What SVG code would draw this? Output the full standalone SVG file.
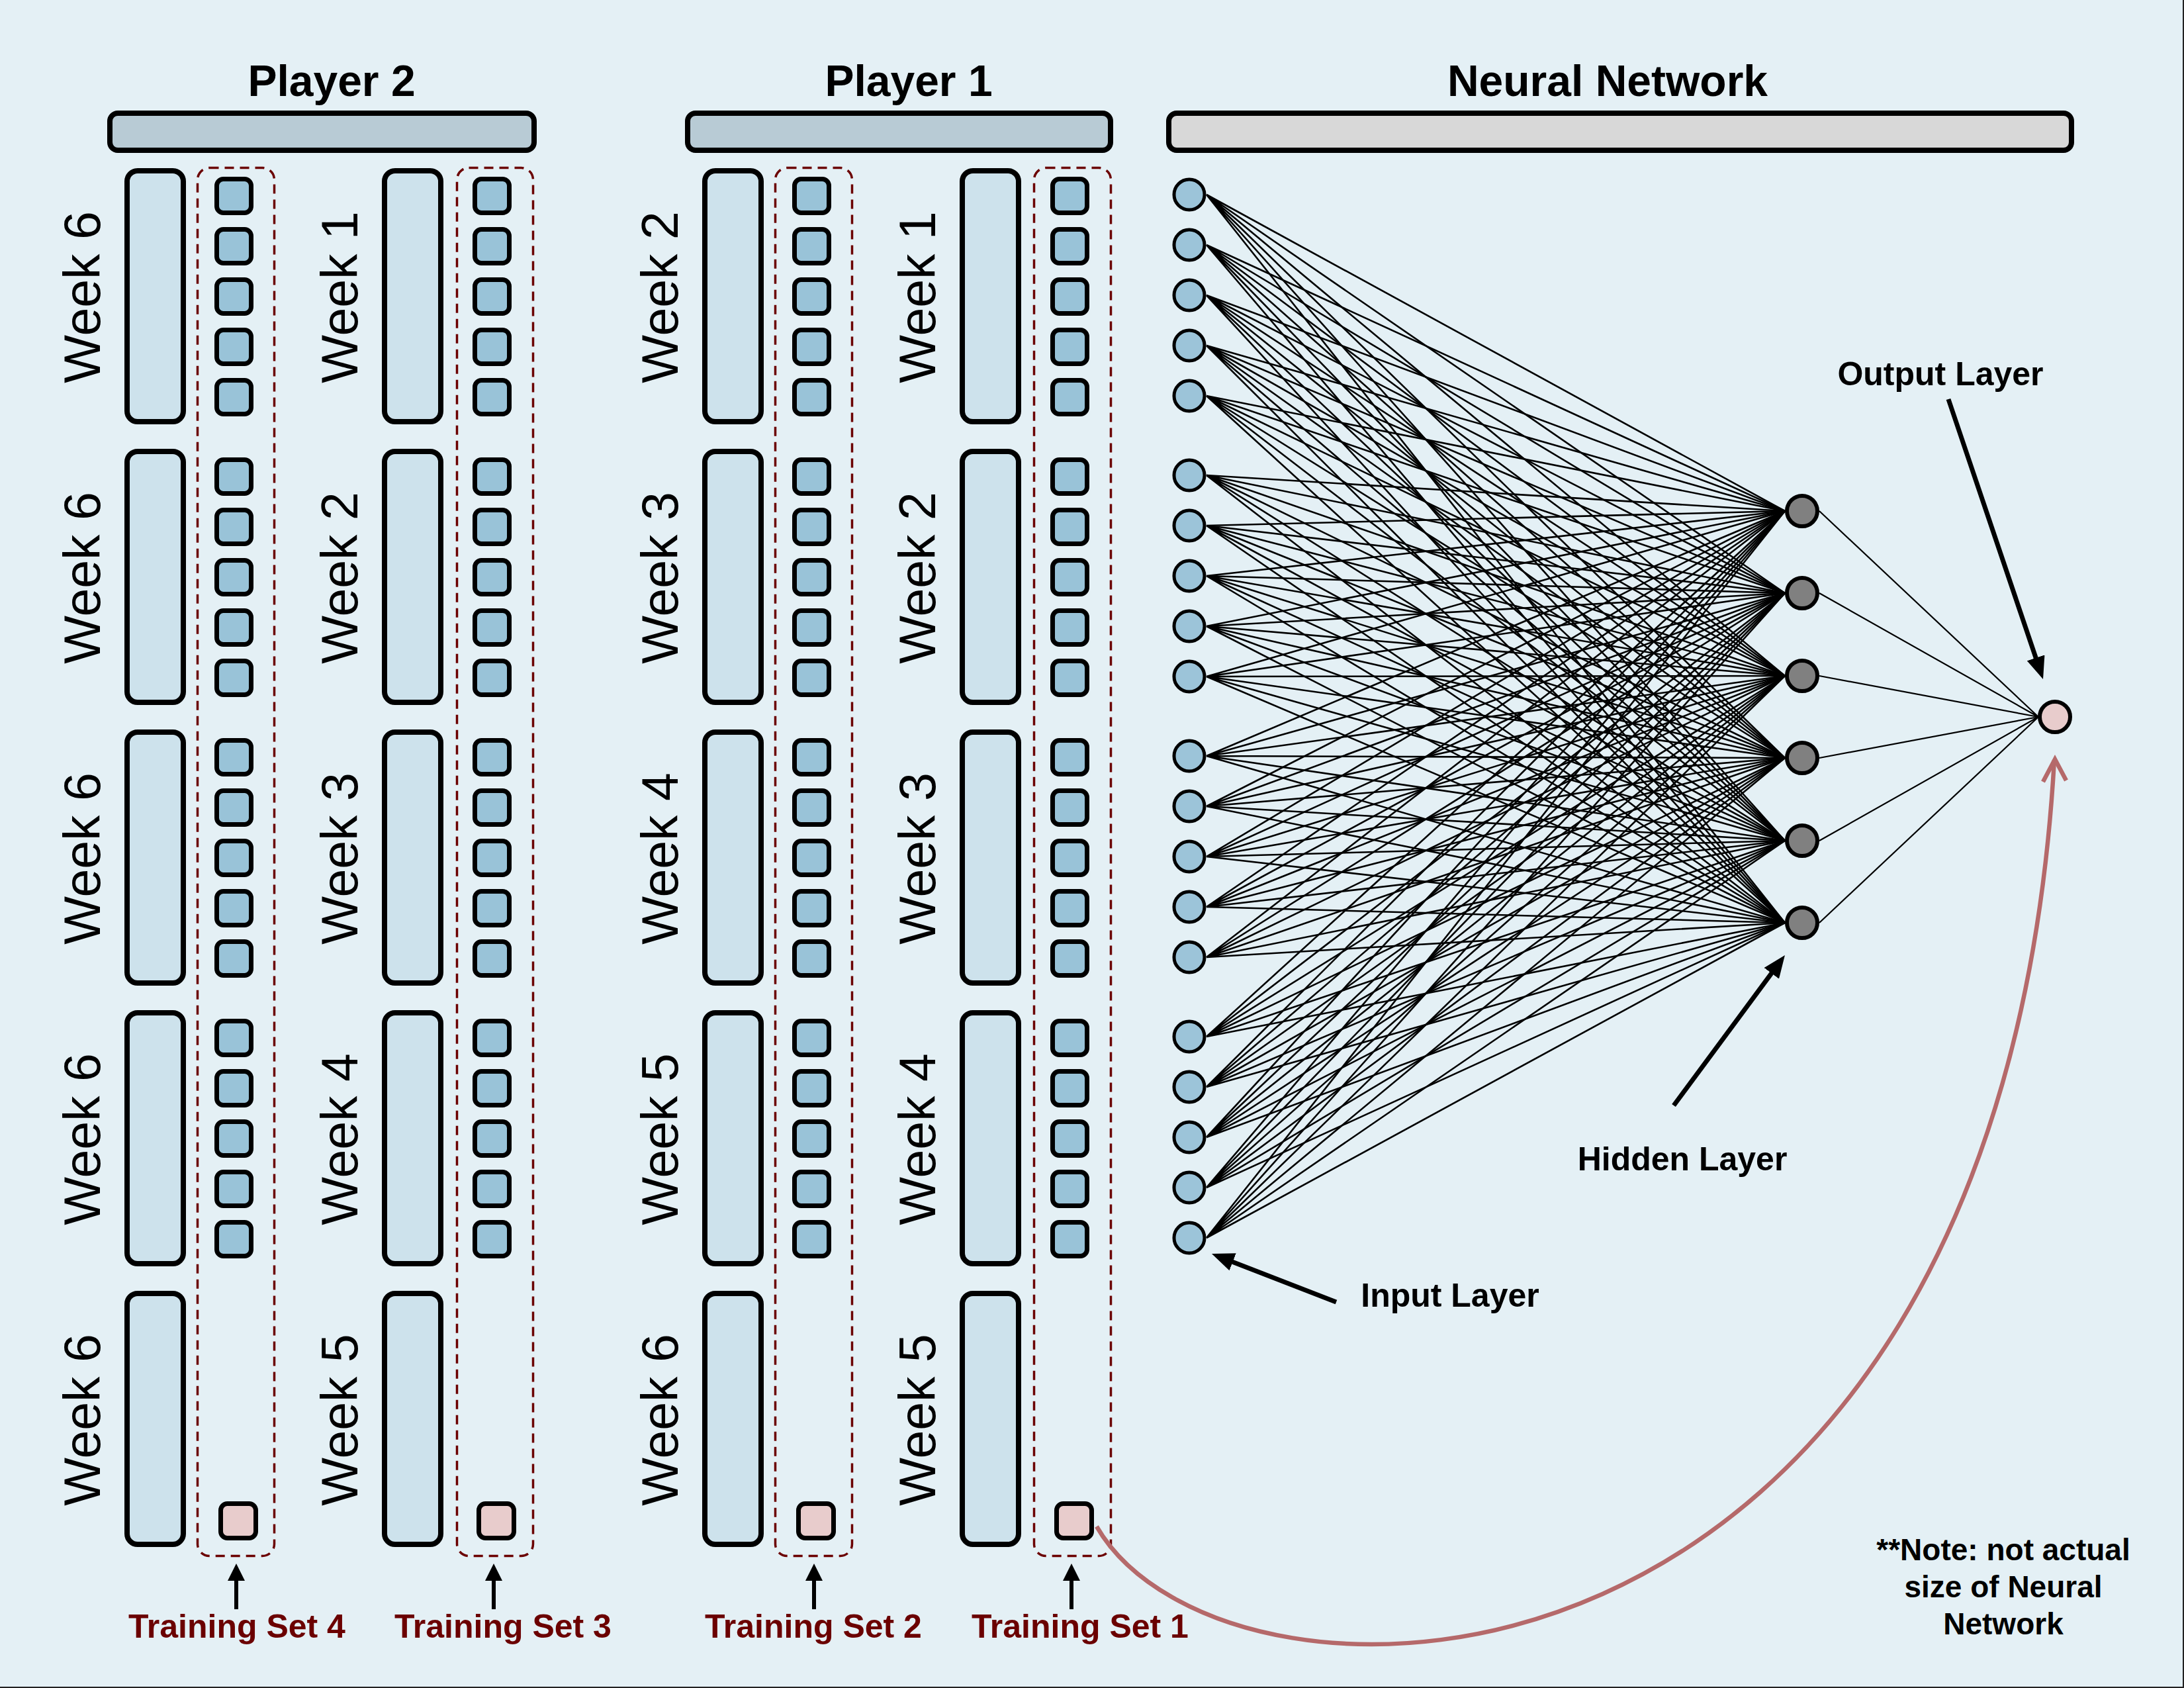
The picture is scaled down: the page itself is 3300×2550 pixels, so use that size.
<svg xmlns="http://www.w3.org/2000/svg" width="3300" height="2550" viewBox="0 0 3300 2550">
<defs>
<style>
.bg{fill:#e4f0f5}
.bar{stroke:#000;stroke-width:8}
.wk{fill:#cde2ec;stroke:#000;stroke-width:8}
.sq{fill:#99c3d8;stroke:#000;stroke-width:7}
.pk{fill:#e8cccc;stroke:#000;stroke-width:7}
.dash{fill:none;stroke:#6b0000;stroke-width:3.5;stroke-dasharray:14 9}
text{font-family:"Liberation Sans",Arial,sans-serif}
.title{font-size:66px;font-weight:bold;text-anchor:middle}
.week{font-size:77px;text-anchor:middle}
.ts{font-size:50px;font-weight:bold;fill:#6b0000;text-anchor:middle}
.lbl{font-size:50px;font-weight:bold;text-anchor:middle}
.note{font-size:46px;font-weight:bold;text-anchor:middle}
.in{fill:#9cc4d9;stroke:#000;stroke-width:5}
.hid{fill:#808080;stroke:#000;stroke-width:6}
.out{fill:#e8cccc;stroke:#000;stroke-width:6}
.conn{stroke:#000;stroke-width:2.6;fill:none}
.conn2{stroke:#000;stroke-width:2.2;fill:none}
.arr{stroke:#000;stroke-width:7}
.arrs{stroke:#000;stroke-width:6}
.curve{stroke:#b5696a;stroke-width:6.5;fill:none}
</style>
<marker id="ah" markerUnits="userSpaceOnUse" viewBox="0 0 34 28" refX="8" refY="14" markerWidth="34" markerHeight="28" orient="auto"><path d="M0,0 L34,14 L0,28 z" fill="#000"/></marker>
<marker id="ahs" markerUnits="userSpaceOnUse" viewBox="0 0 26 26" refX="6" refY="13" markerWidth="26" markerHeight="26" orient="auto"><path d="M0,0 L26,13 L0,26 z" fill="#000"/></marker>
</defs>
<rect class="bg" x="0" y="0" width="3300" height="2550"/>
<path d="M3299,0 V2549 H0" fill="none" stroke="#222" stroke-width="2"/>

<g id="headers">
<rect class="bar" x="166" y="171" width="641" height="56" rx="12" fill="#b8cbd5"/>
<text class="title" x="501" y="145">Player 2</text>
<rect class="bar" x="1039" y="171" width="639" height="56" rx="12" fill="#b8cbd5"/>
<text class="title" x="1373" y="145">Player 1</text>
<rect class="bar" x="1766" y="171" width="1364" height="56" rx="12" fill="#d8d8d8"/>
<text class="title" x="2429" y="145">Neural Network</text>
</g>

<g id="player2-col1">
<rect class="wk" x="192" y="258" width="85" height="379" rx="16"/>
<rect class="wk" x="192" y="682" width="85" height="379" rx="16"/>
<rect class="wk" x="192" y="1106" width="85" height="379" rx="16"/>
<rect class="wk" x="192" y="1530" width="85" height="379" rx="16"/>
<rect class="wk" x="192" y="1954" width="85" height="379" rx="16"/>
<text class="week" transform="translate(151,449) rotate(-90)">Week 6</text>
<text class="week" transform="translate(151,873) rotate(-90)">Week 6</text>
<text class="week" transform="translate(151,1297) rotate(-90)">Week 6</text>
<text class="week" transform="translate(151,1721) rotate(-90)">Week 6</text>
<text class="week" transform="translate(151,2145) rotate(-90)">Week 6</text>
</g>
<g id="player2-col2">
<rect class="wk" x="581" y="258" width="85" height="379" rx="16"/>
<rect class="wk" x="581" y="682" width="85" height="379" rx="16"/>
<rect class="wk" x="581" y="1106" width="85" height="379" rx="16"/>
<rect class="wk" x="581" y="1530" width="85" height="379" rx="16"/>
<rect class="wk" x="581" y="1954" width="85" height="379" rx="16"/>
<text class="week" transform="translate(540,449) rotate(-90)">Week 1</text>
<text class="week" transform="translate(540,873) rotate(-90)">Week 2</text>
<text class="week" transform="translate(540,1297) rotate(-90)">Week 3</text>
<text class="week" transform="translate(540,1721) rotate(-90)">Week 4</text>
<text class="week" transform="translate(540,2145) rotate(-90)">Week 5</text>
</g>
<g id="player1-col3">
<rect class="wk" x="1065" y="258" width="85" height="379" rx="16"/>
<rect class="wk" x="1065" y="682" width="85" height="379" rx="16"/>
<rect class="wk" x="1065" y="1106" width="85" height="379" rx="16"/>
<rect class="wk" x="1065" y="1530" width="85" height="379" rx="16"/>
<rect class="wk" x="1065" y="1954" width="85" height="379" rx="16"/>
<text class="week" transform="translate(1024,449) rotate(-90)">Week 2</text>
<text class="week" transform="translate(1024,873) rotate(-90)">Week 3</text>
<text class="week" transform="translate(1024,1297) rotate(-90)">Week 4</text>
<text class="week" transform="translate(1024,1721) rotate(-90)">Week 5</text>
<text class="week" transform="translate(1024,2145) rotate(-90)">Week 6</text>
</g>
<g id="player1-col4">
<rect class="wk" x="1454" y="258" width="85" height="379" rx="16"/>
<rect class="wk" x="1454" y="682" width="85" height="379" rx="16"/>
<rect class="wk" x="1454" y="1106" width="85" height="379" rx="16"/>
<rect class="wk" x="1454" y="1530" width="85" height="379" rx="16"/>
<rect class="wk" x="1454" y="1954" width="85" height="379" rx="16"/>
<text class="week" transform="translate(1413,449) rotate(-90)">Week 1</text>
<text class="week" transform="translate(1413,873) rotate(-90)">Week 2</text>
<text class="week" transform="translate(1413,1297) rotate(-90)">Week 3</text>
<text class="week" transform="translate(1413,1721) rotate(-90)">Week 4</text>
<text class="week" transform="translate(1413,2145) rotate(-90)">Week 5</text>
</g>

<g id="training-set-4">
<rect class="dash" x="298.5" y="253.5" width="116" height="2097" rx="18"/>
<rect class="sq" x="327.5" y="270.5" width="52" height="51" rx="10"/><rect class="sq" x="327.5" y="346.5" width="52" height="51" rx="10"/><rect class="sq" x="327.5" y="422.5" width="52" height="51" rx="10"/><rect class="sq" x="327.5" y="498.5" width="52" height="51" rx="10"/><rect class="sq" x="327.5" y="574.5" width="52" height="51" rx="10"/>
<rect class="sq" x="327.5" y="694.5" width="52" height="51" rx="10"/><rect class="sq" x="327.5" y="770.5" width="52" height="51" rx="10"/><rect class="sq" x="327.5" y="846.5" width="52" height="51" rx="10"/><rect class="sq" x="327.5" y="922.5" width="52" height="51" rx="10"/><rect class="sq" x="327.5" y="998.5" width="52" height="51" rx="10"/>
<rect class="sq" x="327.5" y="1118.5" width="52" height="51" rx="10"/><rect class="sq" x="327.5" y="1194.5" width="52" height="51" rx="10"/><rect class="sq" x="327.5" y="1270.5" width="52" height="51" rx="10"/><rect class="sq" x="327.5" y="1346.5" width="52" height="51" rx="10"/><rect class="sq" x="327.5" y="1422.5" width="52" height="51" rx="10"/>
<rect class="sq" x="327.5" y="1542.5" width="52" height="51" rx="10"/><rect class="sq" x="327.5" y="1618.5" width="52" height="51" rx="10"/><rect class="sq" x="327.5" y="1694.5" width="52" height="51" rx="10"/><rect class="sq" x="327.5" y="1770.5" width="52" height="51" rx="10"/><rect class="sq" x="327.5" y="1846.5" width="52" height="51" rx="10"/>
<rect class="pk" x="333.5" y="2271.5" width="53" height="52" rx="10"/>
<text class="ts" x="358" y="2474">Training Set 4</text>
</g>
<g id="training-set-3">
<rect class="dash" x="690.5" y="253.5" width="115" height="2097" rx="18"/>
<rect class="sq" x="717.5" y="270.5" width="52" height="51" rx="10"/><rect class="sq" x="717.5" y="346.5" width="52" height="51" rx="10"/><rect class="sq" x="717.5" y="422.5" width="52" height="51" rx="10"/><rect class="sq" x="717.5" y="498.5" width="52" height="51" rx="10"/><rect class="sq" x="717.5" y="574.5" width="52" height="51" rx="10"/>
<rect class="sq" x="717.5" y="694.5" width="52" height="51" rx="10"/><rect class="sq" x="717.5" y="770.5" width="52" height="51" rx="10"/><rect class="sq" x="717.5" y="846.5" width="52" height="51" rx="10"/><rect class="sq" x="717.5" y="922.5" width="52" height="51" rx="10"/><rect class="sq" x="717.5" y="998.5" width="52" height="51" rx="10"/>
<rect class="sq" x="717.5" y="1118.5" width="52" height="51" rx="10"/><rect class="sq" x="717.5" y="1194.5" width="52" height="51" rx="10"/><rect class="sq" x="717.5" y="1270.5" width="52" height="51" rx="10"/><rect class="sq" x="717.5" y="1346.5" width="52" height="51" rx="10"/><rect class="sq" x="717.5" y="1422.5" width="52" height="51" rx="10"/>
<rect class="sq" x="717.5" y="1542.5" width="52" height="51" rx="10"/><rect class="sq" x="717.5" y="1618.5" width="52" height="51" rx="10"/><rect class="sq" x="717.5" y="1694.5" width="52" height="51" rx="10"/><rect class="sq" x="717.5" y="1770.5" width="52" height="51" rx="10"/><rect class="sq" x="717.5" y="1846.5" width="52" height="51" rx="10"/>
<rect class="pk" x="723.5" y="2271.5" width="53" height="52" rx="10"/>
<text class="ts" x="760" y="2474">Training Set 3</text>
</g>
<g id="training-set-2">
<rect class="dash" x="1171.5" y="253.5" width="116" height="2097" rx="18"/>
<rect class="sq" x="1200.5" y="270.5" width="52" height="51" rx="10"/><rect class="sq" x="1200.5" y="346.5" width="52" height="51" rx="10"/><rect class="sq" x="1200.5" y="422.5" width="52" height="51" rx="10"/><rect class="sq" x="1200.5" y="498.5" width="52" height="51" rx="10"/><rect class="sq" x="1200.5" y="574.5" width="52" height="51" rx="10"/>
<rect class="sq" x="1200.5" y="694.5" width="52" height="51" rx="10"/><rect class="sq" x="1200.5" y="770.5" width="52" height="51" rx="10"/><rect class="sq" x="1200.5" y="846.5" width="52" height="51" rx="10"/><rect class="sq" x="1200.5" y="922.5" width="52" height="51" rx="10"/><rect class="sq" x="1200.5" y="998.5" width="52" height="51" rx="10"/>
<rect class="sq" x="1200.5" y="1118.5" width="52" height="51" rx="10"/><rect class="sq" x="1200.5" y="1194.5" width="52" height="51" rx="10"/><rect class="sq" x="1200.5" y="1270.5" width="52" height="51" rx="10"/><rect class="sq" x="1200.5" y="1346.5" width="52" height="51" rx="10"/><rect class="sq" x="1200.5" y="1422.5" width="52" height="51" rx="10"/>
<rect class="sq" x="1200.5" y="1542.5" width="52" height="51" rx="10"/><rect class="sq" x="1200.5" y="1618.5" width="52" height="51" rx="10"/><rect class="sq" x="1200.5" y="1694.5" width="52" height="51" rx="10"/><rect class="sq" x="1200.5" y="1770.5" width="52" height="51" rx="10"/><rect class="sq" x="1200.5" y="1846.5" width="52" height="51" rx="10"/>
<rect class="pk" x="1206.5" y="2271.5" width="53" height="52" rx="10"/>
<text class="ts" x="1229" y="2474">Training Set 2</text>
</g>
<g id="training-set-1">
<rect class="dash" x="1562.5" y="253.5" width="116" height="2097" rx="18"/>
<rect class="sq" x="1590.5" y="270.5" width="52" height="51" rx="10"/><rect class="sq" x="1590.5" y="346.5" width="52" height="51" rx="10"/><rect class="sq" x="1590.5" y="422.5" width="52" height="51" rx="10"/><rect class="sq" x="1590.5" y="498.5" width="52" height="51" rx="10"/><rect class="sq" x="1590.5" y="574.5" width="52" height="51" rx="10"/>
<rect class="sq" x="1590.5" y="694.5" width="52" height="51" rx="10"/><rect class="sq" x="1590.5" y="770.5" width="52" height="51" rx="10"/><rect class="sq" x="1590.5" y="846.5" width="52" height="51" rx="10"/><rect class="sq" x="1590.5" y="922.5" width="52" height="51" rx="10"/><rect class="sq" x="1590.5" y="998.5" width="52" height="51" rx="10"/>
<rect class="sq" x="1590.5" y="1118.5" width="52" height="51" rx="10"/><rect class="sq" x="1590.5" y="1194.5" width="52" height="51" rx="10"/><rect class="sq" x="1590.5" y="1270.5" width="52" height="51" rx="10"/><rect class="sq" x="1590.5" y="1346.5" width="52" height="51" rx="10"/><rect class="sq" x="1590.5" y="1422.5" width="52" height="51" rx="10"/>
<rect class="sq" x="1590.5" y="1542.5" width="52" height="51" rx="10"/><rect class="sq" x="1590.5" y="1618.5" width="52" height="51" rx="10"/><rect class="sq" x="1590.5" y="1694.5" width="52" height="51" rx="10"/><rect class="sq" x="1590.5" y="1770.5" width="52" height="51" rx="10"/><rect class="sq" x="1590.5" y="1846.5" width="52" height="51" rx="10"/>
<rect class="pk" x="1596.5" y="2271.5" width="53" height="52" rx="10"/>
<text class="ts" x="1632" y="2474">Training Set 1</text>
</g>

<g id="connectors">
<path class="conn" d="M1823,294 L2697,772 M1823,294 L2697,896 M1823,294 L2697,1021 M1823,294 L2697,1145 M1823,294 L2697,1270 M1823,294 L2697,1394"/>
<path class="conn" d="M1823,370 L2697,772 M1823,370 L2697,896 M1823,370 L2697,1021 M1823,370 L2697,1145 M1823,370 L2697,1270 M1823,370 L2697,1394"/>
<path class="conn" d="M1823,446 L2697,772 M1823,446 L2697,896 M1823,446 L2697,1021 M1823,446 L2697,1145 M1823,446 L2697,1270 M1823,446 L2697,1394"/>
<path class="conn" d="M1823,522 L2697,772 M1823,522 L2697,896 M1823,522 L2697,1021 M1823,522 L2697,1145 M1823,522 L2697,1270 M1823,522 L2697,1394"/>
<path class="conn" d="M1823,598 L2697,772 M1823,598 L2697,896 M1823,598 L2697,1021 M1823,598 L2697,1145 M1823,598 L2697,1270 M1823,598 L2697,1394"/>
<path class="conn" d="M1823,718 L2697,772 M1823,718 L2697,896 M1823,718 L2697,1021 M1823,718 L2697,1145 M1823,718 L2697,1270 M1823,718 L2697,1394"/>
<path class="conn" d="M1823,794 L2697,772 M1823,794 L2697,896 M1823,794 L2697,1021 M1823,794 L2697,1145 M1823,794 L2697,1270 M1823,794 L2697,1394"/>
<path class="conn" d="M1823,870 L2697,772 M1823,870 L2697,896 M1823,870 L2697,1021 M1823,870 L2697,1145 M1823,870 L2697,1270 M1823,870 L2697,1394"/>
<path class="conn" d="M1823,946 L2697,772 M1823,946 L2697,896 M1823,946 L2697,1021 M1823,946 L2697,1145 M1823,946 L2697,1270 M1823,946 L2697,1394"/>
<path class="conn" d="M1823,1022 L2697,772 M1823,1022 L2697,896 M1823,1022 L2697,1021 M1823,1022 L2697,1145 M1823,1022 L2697,1270 M1823,1022 L2697,1394"/>
<path class="conn" d="M1823,1142 L2697,772 M1823,1142 L2697,896 M1823,1142 L2697,1021 M1823,1142 L2697,1145 M1823,1142 L2697,1270 M1823,1142 L2697,1394"/>
<path class="conn" d="M1823,1218 L2697,772 M1823,1218 L2697,896 M1823,1218 L2697,1021 M1823,1218 L2697,1145 M1823,1218 L2697,1270 M1823,1218 L2697,1394"/>
<path class="conn" d="M1823,1294 L2697,772 M1823,1294 L2697,896 M1823,1294 L2697,1021 M1823,1294 L2697,1145 M1823,1294 L2697,1270 M1823,1294 L2697,1394"/>
<path class="conn" d="M1823,1370 L2697,772 M1823,1370 L2697,896 M1823,1370 L2697,1021 M1823,1370 L2697,1145 M1823,1370 L2697,1270 M1823,1370 L2697,1394"/>
<path class="conn" d="M1823,1446 L2697,772 M1823,1446 L2697,896 M1823,1446 L2697,1021 M1823,1446 L2697,1145 M1823,1446 L2697,1270 M1823,1446 L2697,1394"/>
<path class="conn" d="M1823,1566 L2697,772 M1823,1566 L2697,896 M1823,1566 L2697,1021 M1823,1566 L2697,1145 M1823,1566 L2697,1270 M1823,1566 L2697,1394"/>
<path class="conn" d="M1823,1642 L2697,772 M1823,1642 L2697,896 M1823,1642 L2697,1021 M1823,1642 L2697,1145 M1823,1642 L2697,1270 M1823,1642 L2697,1394"/>
<path class="conn" d="M1823,1718 L2697,772 M1823,1718 L2697,896 M1823,1718 L2697,1021 M1823,1718 L2697,1145 M1823,1718 L2697,1270 M1823,1718 L2697,1394"/>
<path class="conn" d="M1823,1794 L2697,772 M1823,1794 L2697,896 M1823,1794 L2697,1021 M1823,1794 L2697,1145 M1823,1794 L2697,1270 M1823,1794 L2697,1394"/>
<path class="conn" d="M1823,1870 L2697,772 M1823,1870 L2697,896 M1823,1870 L2697,1021 M1823,1870 L2697,1145 M1823,1870 L2697,1270 M1823,1870 L2697,1394"/>
<path class="conn2" d="M2749,772 L3080,1083 M2749,896 L3080,1083 M2749,1021 L3080,1083 M2749,1145 L3080,1083 M2749,1270 L3080,1083 M2749,1394 L3080,1083"/>
<line class="arrs" x1="357" y1="2431" x2="357" y2="2382" marker-end="url(#ahs)"/>
<line class="arrs" x1="746" y1="2431" x2="746" y2="2382" marker-end="url(#ahs)"/>
<line class="arrs" x1="1230" y1="2431" x2="1230" y2="2382" marker-end="url(#ahs)"/>
<line class="arrs" x1="1619" y1="2431" x2="1619" y2="2382" marker-end="url(#ahs)"/>
<line class="arr" x1="2944" y1="603" x2="3078.7" y2="1001.4" marker-end="url(#ah)"/>
<line class="arr" x1="2529" y1="1670" x2="2681.5" y2="1463.9" marker-end="url(#ah)"/>
<line class="arr" x1="2019" y1="1967" x2="1855.2" y2="1903.4" marker-end="url(#ah)"/>
<path class="curve" d="M1657,2306 C1850,2640 3020,2630 3104,1148"/>
<polyline class="curve" points="3087,1181 3105,1147 3122,1179" stroke-width="7" stroke-linejoin="miter"/>
</g>

<g id="input-layer">
<circle class="in" cx="1797" cy="294" r="23"/><circle class="in" cx="1797" cy="370" r="23"/><circle class="in" cx="1797" cy="446" r="23"/><circle class="in" cx="1797" cy="522" r="23"/><circle class="in" cx="1797" cy="598" r="23"/>
<circle class="in" cx="1797" cy="718" r="23"/><circle class="in" cx="1797" cy="794" r="23"/><circle class="in" cx="1797" cy="870" r="23"/><circle class="in" cx="1797" cy="946" r="23"/><circle class="in" cx="1797" cy="1022" r="23"/>
<circle class="in" cx="1797" cy="1142" r="23"/><circle class="in" cx="1797" cy="1218" r="23"/><circle class="in" cx="1797" cy="1294" r="23"/><circle class="in" cx="1797" cy="1370" r="23"/><circle class="in" cx="1797" cy="1446" r="23"/>
<circle class="in" cx="1797" cy="1566" r="23"/><circle class="in" cx="1797" cy="1642" r="23"/><circle class="in" cx="1797" cy="1718" r="23"/><circle class="in" cx="1797" cy="1794" r="23"/><circle class="in" cx="1797" cy="1870" r="23"/>
<text class="lbl" x="2191" y="1974">Input Layer</text>
</g>
<g id="hidden-layer">
<circle class="hid" cx="2723" cy="772" r="23"/><circle class="hid" cx="2723" cy="896" r="23"/><circle class="hid" cx="2723" cy="1021" r="23"/><circle class="hid" cx="2723" cy="1145" r="23"/><circle class="hid" cx="2723" cy="1270" r="23"/><circle class="hid" cx="2723" cy="1394" r="23"/>
<text class="lbl" x="2542" y="1768">Hidden Layer</text>
</g>
<g id="output-layer">
<circle class="out" cx="3105" cy="1083" r="23"/>
<text class="lbl" x="2932" y="582">Output Layer</text>
</g>
<g id="note">
<text class="note" x="3027" y="2357">**Note: not actual</text>
<text class="note" x="3027" y="2413">size of Neural</text>
<text class="note" x="3027" y="2469">Network</text>
</g>
</svg>
